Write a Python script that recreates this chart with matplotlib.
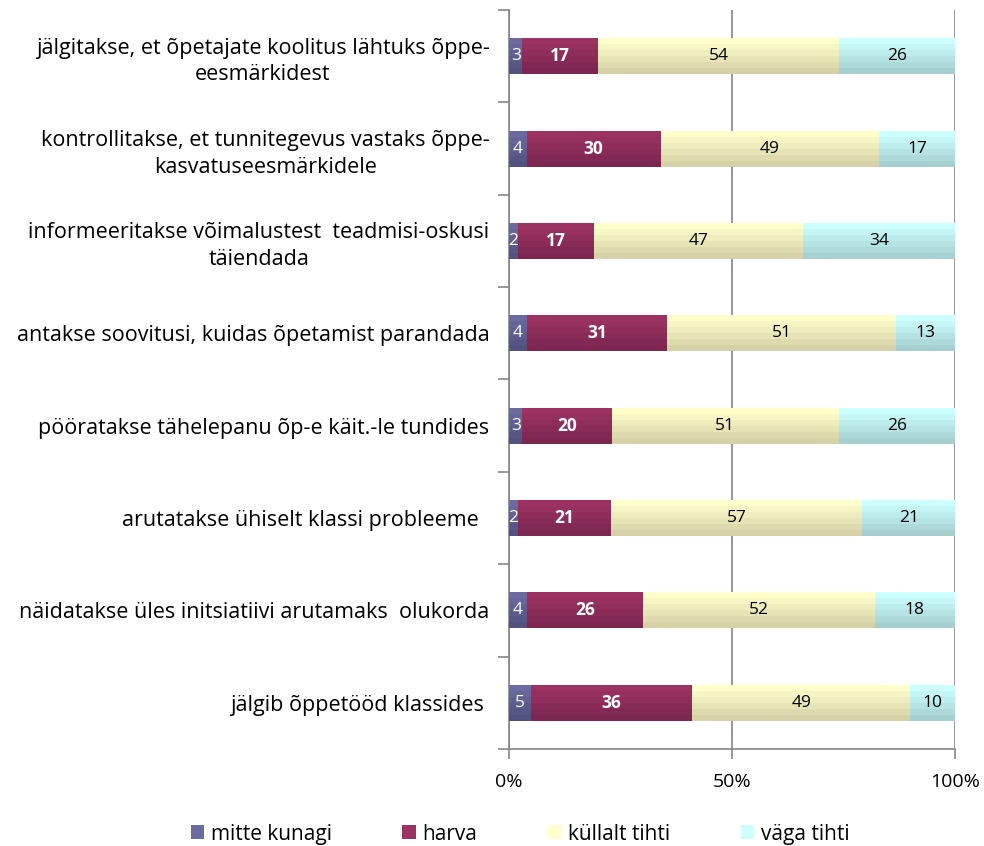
import numpy as np
import matplotlib
matplotlib.use("Agg")
import matplotlib.pyplot as plt
from matplotlib.colors import to_rgb
from matplotlib.patches import Patch
from matplotlib.ticker import FixedLocator, PercentFormatter

plt.rcParams['font.family'] = ['Open Sans', 'DejaVu Sans']

categories = [
    "jälgitakse, et õpetajate koolitus lähtuks õppe-\neesmärkidest",
    "kontrollitakse, et tunnitegevus vastaks õppe-\nkasvatuseesmärkidele",
    "informeeritakse võimalustest  teadmisi-oskusi\ntäiendada",
    "antakse soovitusi, kuidas õpetamist parandada",
    "pööratakse tähelepanu õp-e käit.-le tundides",
    "arutatakse ühiselt klassi probleeme  ",
    "näidatakse üles initsiatiivi arutamaks  olukorda",
    "jälgib õppetööd klassides ",
]
series_names = ["mitte kunagi", "harva", "küllalt tihti", "väga tihti"]
mitte_kunagi = [3, 4, 2, 4, 3, 2, 4, 5]
harva = [17, 30, 17, 31, 20, 21, 26, 36]
kullalt_tihti = [54, 49, 47, 51, 51, 57, 52, 49]
vaga_tihti = [26, 17, 34, 13, 26, 21, 18, 10]

# top / bottom shade of each series (bars are shaded like in Excel)
top_cols = ["#6b6b9f", "#9c3262", "#ffffcc", "#ccffff"]
bot_cols = ["#525280", "#7c2650", "#d4d2a6", "#a6d0d0"]
lbl_cols = ["white", "white", "black", "black"]
lbl_weight = ["normal", "bold", "normal", "normal"]

data = np.array([mitte_kunagi, harva, kullalt_tihti, vaga_tihti], dtype=float)
share = data / data.sum(axis=0) * 100

fig = plt.figure(figsize=(9.84, 8.46), dpi=100)
ax = fig.add_axes([509/984, 1 - 749/846, 446/984, 739/846])

pos = np.arange(len(categories))
h = 0.39
nstripe = 6
left = np.zeros(len(categories))
for i in range(len(series_names)):
    c0 = np.array(to_rgb(top_cols[i]))
    c1 = np.array(to_rgb(bot_cols[i]))
    for k in range(nstripe):
        t = k / (nstripe - 1)
        ax.barh(pos - h/2 + (k + 0.5) * h / nstripe, share[i], height=h/nstripe,
                left=left, color=c0 * (1 - t) + c1 * t, linewidth=0, zorder=3)
    for j in range(len(categories)):
        ax.text(left[j] + share[i, j] / 2, pos[j], f"{int(data[i, j])}",
                ha="center", va="center", fontsize=12.5, color=lbl_cols[i],
                fontweight=lbl_weight[i], zorder=4)
    left += share[i]

ax.set_xlim(0, 100)
ax.set_ylim(len(categories) - 0.5, -0.5)
ax.xaxis.set_major_locator(FixedLocator([0, 50, 100]))
ax.xaxis.set_major_formatter(PercentFormatter(decimals=0))
ax.grid(axis="x", color="#868686", linewidth=1.2, zorder=0)

ax.set_yticks(pos)
ax.set_yticklabels(categories, fontsize=15.5, ha="right")
for lbl in ax.get_yticklabels():
    lbl.set_multialignment("center")
    lbl.set_linespacing(1.35)
ax.yaxis.set_minor_locator(FixedLocator(np.arange(-0.5, len(categories), 1)))
ax.tick_params(axis="y", which="major", length=0, pad=14)
ax.tick_params(axis="y", which="minor", length=8, width=1.2, color="#868686")
ax.tick_params(axis="x", length=7, width=1.2, color="#868686", pad=10, labelsize=14)

for s in ["top", "right"]:
    ax.spines[s].set_visible(False)
for s in ["left", "bottom"]:
    ax.spines[s].set_color("#868686")
    ax.spines[s].set_linewidth(1.2)

handles = [Patch(facecolor=c, edgecolor="none") for c in top_cols]
fig.legend(handles, series_names, loc="center", bbox_to_anchor=(520/984, 1 - 834/846),
           ncol=4, frameon=False, fontsize=15, columnspacing=3.4,
           handlelength=0.65, handleheight=0.65, handletextpad=0.3)

fig.savefig("out.png", dpi=100)
